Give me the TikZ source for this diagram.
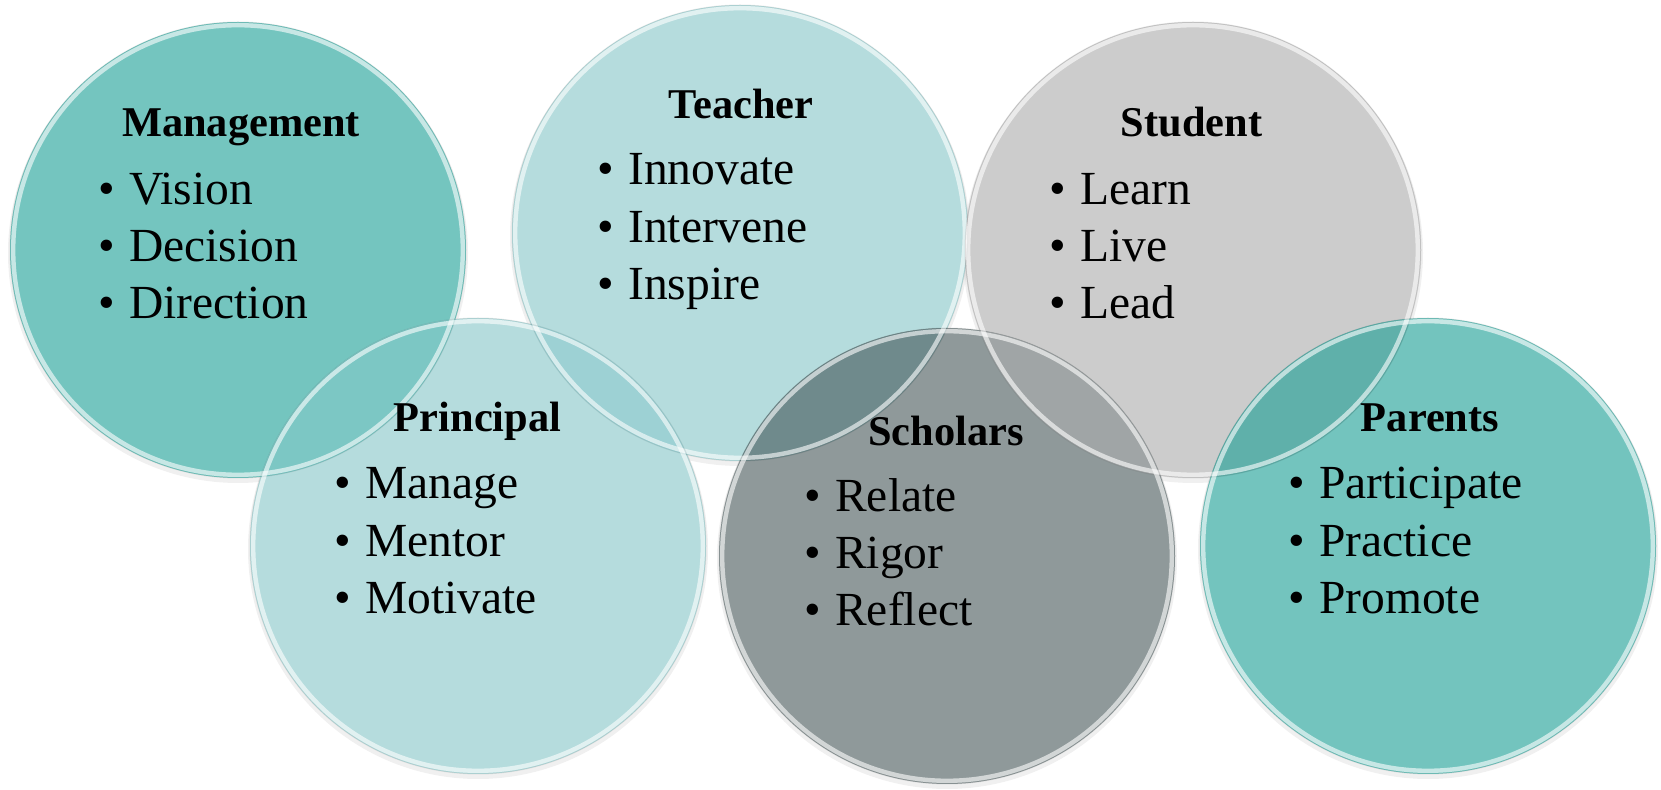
\documentclass[tikz,border=0pt]{standalone}
\usepackage{fontspec}
\setmainfont{Liberation Serif}
\definecolor{mgmtc}{HTML}{74C5BF}
\definecolor{lightc}{HTML}{B5DCDD}
\definecolor{studc}{HTML}{CCCCCC}
\definecolor{scholc}{HTML}{8F999A}
\definecolor{parc}{HTML}{73C4BE}
\definecolor{ovMP}{HTML}{7CC7C4}
\definecolor{ovTP}{HTML}{9DD1D4}
\definecolor{ovTS}{HTML}{6F8A8C}
\definecolor{ovSS}{HTML}{A0A5A6}
\definecolor{ovSP}{HTML}{5FB0AA}
\begin{document}
\begin{tikzpicture}[x=0.5pt,y=-0.5pt,
  disc/.style={circle, inner sep=0pt, minimum size=228pt, draw=none},
  title/.style={font=\fontsize{21.2}{25}\selectfont\bfseries, anchor=base, inner sep=0pt},
  item/.style={font=\fontsize{23.75}{28}\selectfont, anchor=base west, inner sep=0pt},
  rim/.style={draw=white, draw opacity=0.6, line width=2.2pt},
  outline/.style={draw=black, draw opacity=0.08, line width=0.5pt},
  shade/.style={fill=black, fill opacity=0.06}]
\useasboundingbox (0,0) rectangle (1661,790);
\coordinate (cM) at (238,250);
\coordinate (cT) at (740,233);
\coordinate (cS) at (1193,250);
\coordinate (cP) at (478,546);
\coordinate (cH) at (947,556);
\coordinate (cR) at (1428,546);
% soft shadows
\foreach \c in {cM,cT,cS,cP,cH,cR}
  \fill[shade] ([yshift=-1.5pt]\c) circle[radius=115pt];
% discs
\node[disc, fill=mgmtc]  (mgmt) at (cM) {};
\node[disc, fill=lightc] (teach) at (cT) {};
\node[disc, fill=studc]  (stud) at (cS) {};
\node[disc, fill=lightc] (princ) at (cP) {};
\node[disc, fill=scholc] (schol) at (cH) {};
\node[disc, fill=parc]   (par) at (cR) {};
% overlaps
\begin{scope}\clip (cP) circle[radius=114pt]; \fill[ovMP] (cM) circle[radius=114pt];\end{scope}
\begin{scope}\clip (cP) circle[radius=114pt]; \fill[ovTP] (cT) circle[radius=114pt];\end{scope}
\begin{scope}\clip (cH) circle[radius=114pt]; \fill[ovTS] (cT) circle[radius=114pt];\end{scope}
\begin{scope}\clip (cH) circle[radius=114pt]; \fill[ovSS] (cS) circle[radius=114pt];\end{scope}
\begin{scope}\clip (cR) circle[radius=114pt]; \fill[ovSP] (cS) circle[radius=114pt];\end{scope}
% rims
\foreach \c in {cM,cT,cS,cP,cH,cR}{
  \draw[rim] (\c) circle[radius=112.4pt];
  \draw[outline] (\c) circle[radius=114pt];
}
% texts
\node[title] (tM) at (241,136.6) {Management};
\node[item] (m1) at (98,204.4) {\makebox[0.65em][l]{•}Vision};
\node[item] (m2) at (98,261.6) {\makebox[0.65em][l]{•}Decision};
\node[item] (m3) at (98,318.8) {\makebox[0.65em][l]{•}Direction};

\node[title] (tT) at (741,118.6) {Teacher};
\node[item] (t1) at (597,185) {\makebox[0.65em][l]{•}Innovate};
\node[item] (t2) at (597,242.2) {\makebox[0.65em][l]{•}Intervene};
\node[item] (t3) at (597,299.4) {\makebox[0.65em][l]{•}Inspire};

\node[title] (tS) at (1191.5,136.6) {Student};
\node[item] (s1) at (1049,204.4) {\makebox[0.65em][l]{•}Learn};
\node[item] (s2) at (1049,261.6) {\makebox[0.65em][l]{•}Live};
\node[item] (s3) at (1049,318.8) {\makebox[0.65em][l]{•}Lead};

\node[title] (tP) at (477.6,432) {Principal};
\node[item] (p1) at (334,499) {\makebox[0.65em][l]{•}Manage};
\node[item] (p2) at (334,556.2) {\makebox[0.65em][l]{•}Mentor};
\node[item] (p3) at (334,613.4) {\makebox[0.65em][l]{•}Motivate};

\node[title] (tH) at (946,446) {Scholars};
\node[item] (h1) at (804,511.5) {\makebox[0.65em][l]{•}Relate};
\node[item] (h2) at (804,568.7) {\makebox[0.65em][l]{•}Rigor};
\node[item] (h3) at (804,625.9) {\makebox[0.65em][l]{•}Reflect};

\node[title] (tR) at (1430,432) {Parents};
\node[item] (r1) at (1288,499) {\makebox[0.65em][l]{•}Participate};
\node[item] (r2) at (1288,556.2) {\makebox[0.65em][l]{•}Practice};
\node[item] (r3) at (1288,613.4) {\makebox[0.65em][l]{•}Promote};
\end{tikzpicture}
\end{document}
